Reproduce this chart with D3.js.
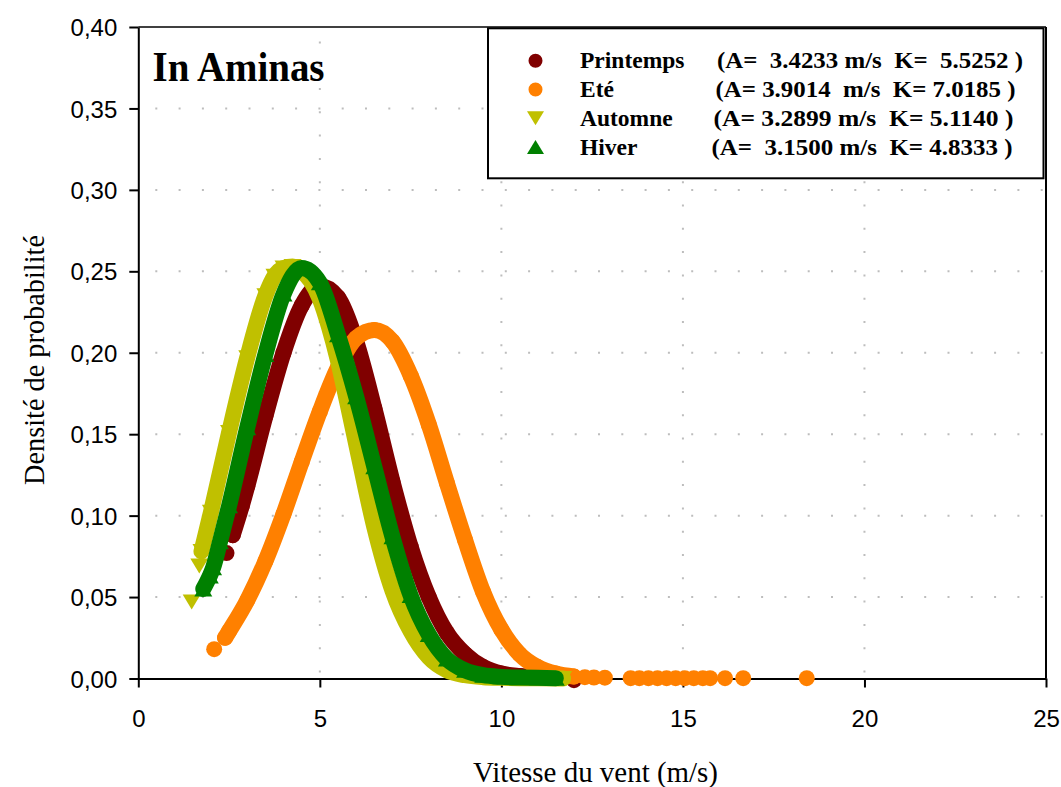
<!DOCTYPE html>
<html lang="fr">
<head>
<meta charset="UTF-8">
<script src="https://d3js.org/d3.v7.min.js"></script>
<title>Densité de probabilité - In Aminas</title>
<style>
  body { margin: 0; background: #fff; }
  text { white-space: pre; }
</style>
</head>
<body>
<script>
// saisons (ordre de la légende) et textes des paramètres
var seasons = ["Printemps", "Eté", "Automne", "Hiver"];
var paramTexts = [
  "(A=  3.4233 m/s  K=  5.5252 )",
  "(A= 3.9014  m/s  K= 7.0185 )",
  "(A= 3.2899 m/s  K= 5.1140 )",
  "(A=  3.1500 m/s  K= 4.8333 )"
];
var xTicks = [0, 5, 10, 15, 20, 25];
var yTicks = [0, 0.05, 0.10, 0.15, 0.20, 0.25, 0.30, 0.35, 0.40];

// points (vitesse m/s, densité)
var printempsX = [2.6, 2.85, 3.0, 3.5, 4.0, 4.5, 5.0, 5.5, 6.0, 6.5, 7.0, 7.5, 8.0, 8.5, 9.0, 9.5, 10.0, 10.5, 11.0];
var printempsY = [0.088, 0.106, 0.118, 0.161, 0.200, 0.229, 0.241, 0.234, 0.207, 0.166, 0.121, 0.081, 0.050, 0.028, 0.015, 0.007, 0.003, 0.0015, 0.0008];
var printempsLooseX = [2.43, 12.0];
var printempsLooseY = [0.077, -0.001];

var eteX = [2.39, 2.5, 3.0, 3.5, 4.0, 4.5, 5.0, 5.5, 6.0, 6.5, 7.0, 7.5, 8.0, 8.5, 9.0, 9.5, 10.0, 10.5, 11.0, 11.5, 12.0];
var eteY = [0.025, 0.029, 0.048, 0.072, 0.101, 0.133, 0.164, 0.191, 0.209, 0.214, 0.207, 0.186, 0.156, 0.120, 0.085, 0.053, 0.030, 0.015, 0.007, 0.003, 0.0012];
var eteLooseX = [2.09, 12.3, 12.55, 12.85, 13.56, 13.8, 14.05, 14.3, 14.55, 14.8, 15.05, 15.3, 15.55, 15.75, 16.16, 16.66, 18.41];
var eteLooseY = [0.018, 0.0008, 0.0006, 0.0005, 0.0002, 0.0002, 0.0002, 0.0002, 0.0002, 0.0002, 0.0002, 0.0002, 0.0002, 0.0002, 0.0002, 0.0002, 0.0002];

var automneX = [1.74, 2.0, 2.5, 3.0, 3.5, 3.75, 4.0, 4.25, 4.5, 4.75, 5.0, 5.25, 5.5, 5.75, 6.0, 6.5, 7.0, 7.5, 8.0, 8.5, 9.0, 9.5, 10.0, 10.5, 11.0, 11.7];
var automneY = [0.078, 0.102, 0.151, 0.197, 0.235, 0.247, 0.252, 0.253, 0.250, 0.244, 0.233, 0.216, 0.195, 0.170, 0.144, 0.093, 0.054, 0.029, 0.013, 0.005, 0.002, 0.0008, 0.0004, 0.0002, 0.0001, 0.0];
var automneLooseX = [1.47, 1.68];
var automneLooseY = [0.047, 0.069];

var hiverX = [1.79, 1.97, 2.06, 2.25, 2.5, 3.0, 3.5, 4.0, 4.5, 5.0, 5.5, 6.0, 6.5, 7.0, 7.5, 8.0, 8.5, 9.0, 9.5, 10.0, 10.5, 11.0, 11.5];
var hiverY = [0.055, 0.063, 0.068, 0.084, 0.106, 0.154, 0.199, 0.236, 0.252, 0.243, 0.211, 0.173, 0.130, 0.087, 0.051, 0.027, 0.012, 0.005, 0.002, 0.001, 0.0006, 0.0004, 0.0002];

var colors = ["#800000", "#ff8000", "#c0c000", "#008000"];
var shapes = ["circle", "circle", "down", "up"];

var bandX = [printempsX, eteX, automneX, hiverX];
var bandY = [printempsY, eteY, automneY, hiverY];
var looseX = [printempsLooseX, eteLooseX, automneLooseX, []];
var looseY = [printempsLooseY, eteLooseY, automneLooseY, []];

var width = 1061, height = 787;
var margin = { top: 27, right: 15, bottom: 108.5, left: 138.3 };

var svg = d3.select("body").append("svg")
    .attr("width", width)
    .attr("height", height);

var x = d3.scaleLinear().domain([0, 25]).range([margin.left, width - margin.right]);
var y = d3.scaleLinear().domain([0, 0.4]).range([height - margin.bottom, margin.top]);

// quadrillage pointillé
var grid = svg.append("g").attr("stroke", "#bdbdbd").attr("stroke-width", 2).attr("stroke-dasharray", "2 21.3");
grid.selectAll(".gy").data(yTicks.slice(1, -1)).enter().append("line")
    .attr("x1", x(0) + 17).attr("x2", x(25))
    .attr("y1", function (d) { return y(d); }).attr("y2", function (d) { return y(d); });
grid.selectAll(".gx").data(xTicks.slice(1, -1)).enter().append("line")
    .attr("x1", function (d) { return x(d); }).attr("x2", function (d) { return x(d); })
    .attr("y1", y(0) - 6).attr("y2", y(0.4));

// cadre haut et droit
svg.append("line").attr("x1", x(0)).attr("x2", x(25)).attr("y1", y(0.4)).attr("y2", y(0.4))
    .attr("stroke", "#000").attr("stroke-width", 1.5);
svg.append("line").attr("x1", x(25)).attr("x2", x(25)).attr("y1", y(0.4)).attr("y2", y(0))
    .attr("stroke", "#000").attr("stroke-width", 2);

// axes
var fmt = function (d) { return d3.format(".2f")(d).replace(".", ","); };
var gx = svg.append("g").attr("transform", "translate(0," + y(0) + ")")
    .call(d3.axisBottom(x).tickValues(xTicks).tickSizeInner(9).tickSizeOuter(0).tickPadding(22));
var gy = svg.append("g").attr("transform", "translate(" + x(0) + ",0)")
    .call(d3.axisLeft(y).tickValues(yTicks).tickFormat(fmt).tickSizeInner(9).tickSizeOuter(0).tickPadding(12));
[gx, gy].forEach(function (g) {
  g.selectAll("path, line").attr("stroke", "#000").attr("stroke-width", 2);
  g.selectAll("text").attr("font-family", "'Liberation Sans', Arial, sans-serif").attr("font-size", 24).attr("fill", "#000");
});
gy.selectAll("text").attr("dy", "0.36em");

function markerPath(shape, big) {
  var w = big ? 9 : 8.5, h = big ? 7.5 : 7;
  if (shape === "up") return "M0," + (-h) + "L" + w + "," + h + "L" + (-w) + "," + h + "Z";
  if (shape === "down") return "M0," + h + "L" + w + "," + (-h) + "L" + (-w) + "," + (-h) + "Z";
  return d3.symbol(d3.symbolCircle, big ? 201 : 154)();
}

var line = d3.line()
    .x(function (d) { return x(d[0]); })
    .y(function (d) { return y(d[1]); })
    .curve(d3.curveMonotoneX);

// séries : ordre Excel, Hiver dessiné en dernier
seasons.forEach(function (s, i) {
  var pts = bandX[i].map(function (v, j) { return [v, bandY[i][j]]; });
  var loose = looseX[i].map(function (v, j) { return [v, looseY[i][j]]; });
  var g = svg.append("g").attr("fill", colors[i]);
  g.append("path")
      .attr("d", line(pts))
      .attr("fill", "none")
      .attr("stroke", colors[i])
      .attr("stroke-width", 16)
      .attr("stroke-linecap", "round")
      .attr("stroke-linejoin", "round");
  g.selectAll("path.m").data(pts.concat(loose)).enter().append("path")
      .attr("class", "m")
      .attr("d", markerPath(shapes[i], true))
      .attr("transform", function (d) { return "translate(" + x(d[0]) + "," + y(d[1]) + ")"; });
});

// titre
svg.append("text").attr("x", 152.5).attr("y", 81)
    .attr("font-family", "'Liberation Serif', 'Times New Roman', serif")
    .attr("font-weight", "bold").attr("font-size", 43)
    .attr("textLength", 172).attr("lengthAdjust", "spacingAndGlyphs")
    .text("In Aminas");

// légende
var leg = svg.append("g");
leg.append("rect").attr("x", 488).attr("y", 28.3).attr("width", 555.5).attr("height", 150)
    .attr("fill", "#fff").attr("stroke", "#000").attr("stroke-width", 2);
var rowY = [68.3, 97, 125.8, 154.5];
var paramX = [717, 715.5, 713.5, 711.5];
var paramW = [306, 300, 300, 301];
seasons.forEach(function (s, i) {
  leg.append("path").attr("d", markerPath(shapes[i], false)).attr("fill", colors[i])
      .attr("transform", "translate(535.5," + (rowY[i] - 7.5) + ")");
  leg.append("text").attr("x", 580).attr("y", rowY[i])
      .attr("font-family", "'Liberation Serif', 'Times New Roman', serif")
      .attr("font-weight", "bold").attr("font-size", 23.5)
      .text(s);
  leg.append("text").attr("x", paramX[i]).attr("y", rowY[i])
      .attr("font-family", "'Liberation Serif', 'Times New Roman', serif")
      .attr("font-weight", "bold").attr("font-size", 23.5)
      .attr("textLength", paramW[i]).attr("lengthAdjust", "spacingAndGlyphs")
      .text(paramTexts[i]);
});

// titres des axes
svg.append("text").attr("x", 595.5).attr("y", 782).attr("text-anchor", "middle")
    .attr("font-family", "'Liberation Serif', 'Times New Roman', serif").attr("font-size", 29)
    .attr("textLength", 245).attr("lengthAdjust", "spacingAndGlyphs")
    .text("Vitesse du vent (m/s)");
svg.append("text").attr("transform", "translate(44,360) rotate(-90)").attr("text-anchor", "middle")
    .attr("font-family", "'Liberation Serif', 'Times New Roman', serif").attr("font-size", 29)
    .attr("textLength", 250).attr("lengthAdjust", "spacingAndGlyphs")
    .text("Densité de probabilité");
</script>
</body>
</html>
